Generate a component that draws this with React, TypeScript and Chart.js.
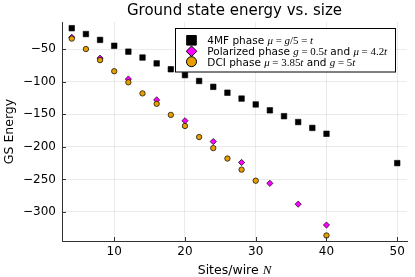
import React, { useEffect, useRef } from 'react';
import { Chart, registerables } from 'chart.js';

Chart.register(...registerables);

const SANS = '"DejaVu Sans", sans-serif';
const SERIF = '"Liberation Serif", serif';

const TITLE = 'Ground state energy vs. size';
const Y_TITLE = 'GS Energy';
const X_TITLE: [string, string][] = [['Sites/wire ', 's'], ['N', 'i']];

const xTickValues = [10, 20, 30, 40, 50];
const yTickValues = [-50, -100, -150, -200, -250, -300];
const X_MIN = 2.62;
const X_MAX = 51.38;
const Y_MIN = -344.5;
const Y_MAX = -8.5;

// 4MF phase
const sites4MF = [4, 6, 8, 10, 12, 14, 16, 18, 20, 22, 24, 26, 28, 30, 32, 34, 36, 38, 40, 50];
const energy4MF = [-18, -27, -36, -45, -54, -63, -72, -81, -90, -99, -108, -117, -126, -135, -144, -153, -162, -171, -180, -225];

// Polarized phase
const sitesPol = [4, 8, 12, 16, 20, 24, 28, 32, 36, 40];
const energyPol = [-32, -64, -96, -128, -160, -192, -224, -256, -288, -320];

// DCI phase
const sitesDCI = [4, 6, 8, 10, 12, 14, 16, 18, 20, 22, 24, 26, 28, 30, 40];
const energyDCI = [-34, -50, -67, -84, -101, -118, -134, -151, -168, -185, -202, -218, -235, -252, -336];

const label4MF: [string, string][] = [['4MF phase ', 's'], ['μ', 'i'], [' = ', 'r'], ['g', 'i'], ['/5 = ', 'r'], ['t', 'i']];
const labelPol: [string, string][] = [['Polarized phase ', 's'], ['g', 'i'], [' = 0.5', 'r'], ['t', 'i'], [' and ', 's'], ['μ', 'i'], [' = 4.2', 'r'], ['t', 'i']];
const labelDCI: [string, string][] = [['DCI phase ', 's'], ['μ', 'i'], [' = 3.85', 'r'], ['t', 'i'], [' and ', 's'], ['g', 'i'], [' = 5', 'r'], ['t', 'i']];

const COLOR_4MF = '#000000';
const COLOR_POL = '#ff00ff';
const COLOR_DCI = '#e69f00';

function runFont(kind: string, size: number) {
  if (kind === 'i') return `italic ${size * 1.04}px ${SERIF}`;
  if (kind === 'r') return `${size * 1.04}px ${SERIF}`;
  return `${size}px ${SANS}`;
}

function drawRuns(ctx: CanvasRenderingContext2D, runs: [string, string][], x: number, y: number, size: number, align: 'left' | 'center') {
  let total = 0;
  const widths = runs.map(([t, k]) => {
    ctx.font = runFont(k, size);
    const w = ctx.measureText(t).width;
    total += w;
    return w;
  });
  let cx = align === 'center' ? x - total / 2 : x;
  ctx.textAlign = 'left';
  ctx.textBaseline = 'alphabetic';
  runs.forEach(([t, k], i) => {
    ctx.font = runFont(k, size);
    ctx.fillText(t, cx, y);
    cx += widths[i];
  });
}

function drawMarker(ctx: CanvasRenderingContext2D, style: string, x: number, y: number, r: number, fill: string, lw: number) {
  ctx.beginPath();
  if (style === 'rect') {
    ctx.rect(x - r, y - r, 2 * r, 2 * r);
  } else if (style === 'rectRot') {
    ctx.moveTo(x, y - r);
    ctx.lineTo(x + r, y);
    ctx.lineTo(x, y + r);
    ctx.lineTo(x - r, y);
    ctx.closePath();
  } else {
    ctx.arc(x, y, r, 0, Math.PI * 2);
  }
  ctx.fillStyle = fill;
  ctx.fill();
  ctx.lineWidth = lw;
  ctx.strokeStyle = '#000';
  ctx.stroke();
}

const overlay = {
  id: 'overlay',
  afterDraw(chart: any) {
    const ctx: CanvasRenderingContext2D = chart.ctx;
    const a = chart.chartArea;
    const xs = chart.scales.x;
    const ys = chart.scales.y;
    ctx.save();
    // inward tick marks
    ctx.strokeStyle = '#333';
    ctx.lineWidth = 1;
    ctx.beginPath();
    xTickValues.forEach((v) => {
      const px = Math.round(xs.getPixelForValue(v)) + 0.5;
      ctx.moveTo(px, a.bottom);
      ctx.lineTo(px, a.bottom - 4);
    });
    yTickValues.forEach((v) => {
      const py = Math.round(ys.getPixelForValue(v)) + 0.5;
      ctx.moveTo(a.left, py);
      ctx.lineTo(a.left + 4, py);
    });
    ctx.stroke();

    ctx.fillStyle = '#000';
    // title
    ctx.font = `15px ${SANS}`;
    ctx.textAlign = 'center';
    ctx.textBaseline = 'middle';
    ctx.fillText(TITLE, (a.left + a.right) / 2, 11);
    // x title
    drawRuns(ctx, X_TITLE, (a.left + a.right) / 2, 274, 12.5, 'center');
    // y title
    ctx.save();
    ctx.translate(10, (a.top + a.bottom) / 2);
    ctx.rotate(-Math.PI / 2);
    ctx.font = `12.5px ${SANS}`;
    ctx.textAlign = 'center';
    ctx.textBaseline = 'middle';
    ctx.fillText(Y_TITLE, 0, 0);
    ctx.restore();

    // legend
    const lx = 175.5, ly = 28.5, lw = 220, lh = 43.5;
    ctx.fillStyle = '#fff';
    ctx.fillRect(lx, ly, lw, lh);
    ctx.strokeStyle = '#000';
    ctx.lineWidth = 1;
    ctx.strokeRect(lx, ly, lw, lh);
    const rows = [
      { style: 'rect', r: 4.8, fill: COLOR_4MF, label: label4MF, y: 40.3 },
      { style: 'rectRot', r: 5.3, fill: COLOR_POL, label: labelPol, y: 51.3 },
      { style: 'circle', r: 5, fill: COLOR_DCI, label: labelDCI, y: 61.7 },
    ];
    rows.forEach((row) => {
      drawMarker(ctx, row.style, 191.5, row.y, row.r, row.fill, 1);
      ctx.fillStyle = '#000';
      drawRuns(ctx, row.label, 207.3, row.y + 3.8, 10.5, 'left');
    });
    ctx.restore();
  },
};

const fmt = (v: number) => (v < 0 ? '\u2212' + Math.abs(v) : String(v));

export default function App() {
  const ref = useRef<HTMLCanvasElement>(null);
  useEffect(() => {
    if (!ref.current) return;
    const toPts = (xs: number[], ys: number[]) => xs.map((x, i) => ({ x, y: ys[i] }));
    const chart = new Chart(ref.current, {
      type: 'scatter',
      data: {
        datasets: [
          {
            label: '4MF phase',
            data: toPts(sites4MF, energy4MF),
            pointStyle: 'rect',
            pointRadius: 3.9,
            backgroundColor: COLOR_4MF,
            borderColor: '#000',
            borderWidth: 0.6,
            order: 3,
          },
          {
            label: 'Polarized phase',
            data: toPts(sitesPol, energyPol),
            pointStyle: 'rectRot',
            pointRadius: 3.1,
            backgroundColor: COLOR_POL,
            borderColor: '#000',
            borderWidth: 0.7,
            order: 2,
          },
          {
            label: 'DCI phase',
            data: toPts(sitesDCI, energyDCI),
            pointStyle: 'circle',
            pointRadius: 2.7,
            backgroundColor: COLOR_DCI,
            borderColor: '#000',
            borderWidth: 0.7,
            order: 1,
          },
        ],
      },
      options: {
        animation: false,
        responsive: true,
        maintainAspectRatio: false,
        layout: { padding: { top: 22, right: 8, left: 0, bottom: 0 } },
        plugins: { legend: { display: false }, tooltip: { enabled: false }, title: { display: false } },
        scales: {
          x: {
            type: 'linear',
            min: X_MIN,
            max: X_MAX,
            afterBuildTicks: (s: any) => { s.ticks = xTickValues.map((v) => ({ value: v })); },
            afterFit: (s: any) => { s.height = 36; },
            grid: { color: 'rgba(0,0,0,0.08)', drawTicks: false },
            border: { display: true, color: '#333', width: 1 },
            ticks: { padding: 4, color: '#000', font: { family: SANS, size: 12 }, callback: (v: any) => fmt(Number(v)), maxRotation: 0 },
          },
          y: {
            type: 'linear',
            min: Y_MIN,
            max: Y_MAX,
            afterBuildTicks: (s: any) => { s.ticks = yTickValues.map((v) => ({ value: v })); },
            afterFit: (s: any) => { s.width = 62; },
            grid: { color: 'rgba(0,0,0,0.08)', drawTicks: false },
            border: { display: true, color: '#333', width: 1 },
            ticks: { padding: 6, color: '#000', font: { family: SANS, size: 12 }, callback: (v: any) => fmt(Number(v)) },
          },
        },
      },
      plugins: [overlay],
    });
    return () => chart.destroy();
  }, []);
  return (
    <div style={{ position: 'fixed', left: 0, top: 0, width: 415, height: 277, background: '#fff' }}>
      <canvas ref={ref} />
    </div>
  );
}
